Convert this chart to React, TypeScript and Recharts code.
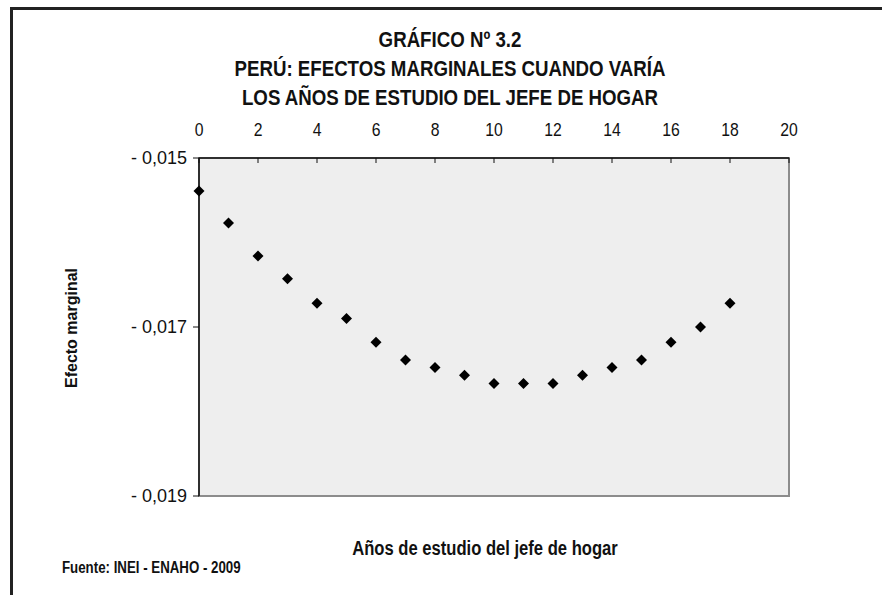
import React from 'react';
import { ScatterChart, Scatter, XAxis, YAxis, ReferenceArea } from 'recharts';

const years = [0, 1, 2, 3, 4, 5, 6, 7, 8, 9, 10, 11, 12, 13, 14, 15, 16, 17, 18];
const effects = [
  -0.01539, -0.01577, -0.01616, -0.01643, -0.01672, -0.0169, -0.01718, -0.01739, -0.01748, -0.01757,
  -0.01767, -0.01767, -0.01767, -0.01757, -0.01748, -0.01739, -0.01718, -0.017, -0.01672,
];
const xTicks = [0, 2, 4, 6, 8, 10, 12, 14, 16, 18, 20];
const yTicks = [-0.019, -0.017, -0.015];
const titleLines = ['GRÁFICO Nº 3.2', 'PERÚ: EFECTOS MARGINALES CUANDO VARÍA', 'LOS AÑOS DE ESTUDIO DEL JEFE DE HOGAR'];
const xLabel = 'Años de estudio del jefe de hogar';
const yLabel = 'Efecto marginal';
const source = 'Fuente: INEI - ENAHO - 2009';

const data = years.map((x, i) => ({ x, y: effects[i] }));

const SANS = '"Liberation Sans", Arial, sans-serif';
const NARROW_SCALE = 0.83;

const Diamond = (props: any) => {
  const { cx, cy } = props;
  const r = 5.5;
  return <polygon points={`${cx},${cy - r} ${cx + r},${cy} ${cx},${cy + r} ${cx - r},${cy}`} fill="#000" />;
};

const XTick = (props: any) => {
  const { x, y, payload } = props;
  return (
    <text
      transform={`translate(${x},${y}) scale(${NARROW_SCALE},1)`}
      textAnchor="middle"
      dy={-2}
      fill="#111"
      fontFamily={SANS}
      fontSize={19}
    >
      {payload.value}
    </text>
  );
};

const fmtY = (v: number) => '-  ' + Math.abs(v).toFixed(3).replace('.', ',');

const Narrow = ({ children, style }: any) => (
  <div
    style={{
      position: 'absolute',
      whiteSpace: 'nowrap',
      fontFamily: SANS,
      fontWeight: 'bold',
      color: '#111',
      ...style,
    }}
  >
    {children}
  </div>
);

export default function App() {
  return (
    <div style={{ position: 'absolute', left: 0, top: 0, width: 882, height: 595, overflow: 'hidden', background: '#fff' }}>
      <div
        style={{
          position: 'absolute',
          left: 10,
          top: 7,
          width: 1000,
          height: 1000,
          borderTop: '3px solid #222',
          borderLeft: '3px solid #222',
        }}
      />
      <div
        style={{
          position: 'absolute',
          left: 0,
          width: 882,
          top: 25,
          textAlign: 'center',
          fontFamily: SANS,
          fontWeight: 'bold',
          fontSize: 22.5,
          lineHeight: '29px',
          color: '#111',
          transform: `translateX(9px) scale(${NARROW_SCALE},1)`,
          transformOrigin: '441px 0',
        }}
      >
        {titleLines.map((t) => (
          <div key={t}>{t}</div>
        ))}
      </div>
      <ScatterChart width={882} height={595} margin={{ top: 128, right: 93, bottom: 99, left: 111 }}>
        <ReferenceArea
          x1={0}
          x2={20}
          y1={-0.019}
          y2={-0.015}
          fill="#eeeeee"
          fillOpacity={1}
          stroke="#8c8c8c"
          strokeWidth={2}
        />
        <XAxis
          type="number"
          dataKey="x"
          orientation="top"
          domain={[0, 20]}
          ticks={xTicks}
          interval={0}
          height={30}
          tickSize={-5}
          tickMargin={25}
          axisLine={{ stroke: '#111', strokeWidth: 1.5 }}
          tickLine={{ stroke: '#111' }}
          tick={<XTick />}
        />
        <YAxis
          type="number"
          dataKey="y"
          domain={[-0.019, -0.015]}
          ticks={yTicks}
          interval={0}
          width={88}
          tickSize={6}
          tickMargin={6}
          tickFormatter={fmtY}
          axisLine={{ stroke: '#111', strokeWidth: 1.5 }}
          tickLine={{ stroke: '#111' }}
          tick={{ fill: '#111', fontFamily: SANS, fontSize: 18 }}
        />
        <Scatter data={data} fill="#000" shape={Diamond} isAnimationActive={false} />
      </ScatterChart>
      <div
        style={{
          position: 'absolute',
          left: 72,
          top: 328,
          transform: 'translate(-50%, -50%) rotate(-90deg)',
          fontFamily: SANS,
          fontWeight: 'bold',
          fontSize: 16,
          whiteSpace: 'nowrap',
          color: '#111',
        }}
      >
        {yLabel}
      </div>
      <Narrow
        style={{
          left: 485,
          top: 548,
          fontSize: 20,
          transform: `translate(-50%, -50%) scale(${NARROW_SCALE},1)`,
        }}
      >
        {xLabel}
      </Narrow>
      <Narrow
        style={{
          left: 62,
          top: 568,
          fontSize: 16,
          transform: `translateY(-50%) scale(${NARROW_SCALE},1)`,
          transformOrigin: '0 50%',
        }}
      >
        {source}
      </Narrow>
    </div>
  );
}
